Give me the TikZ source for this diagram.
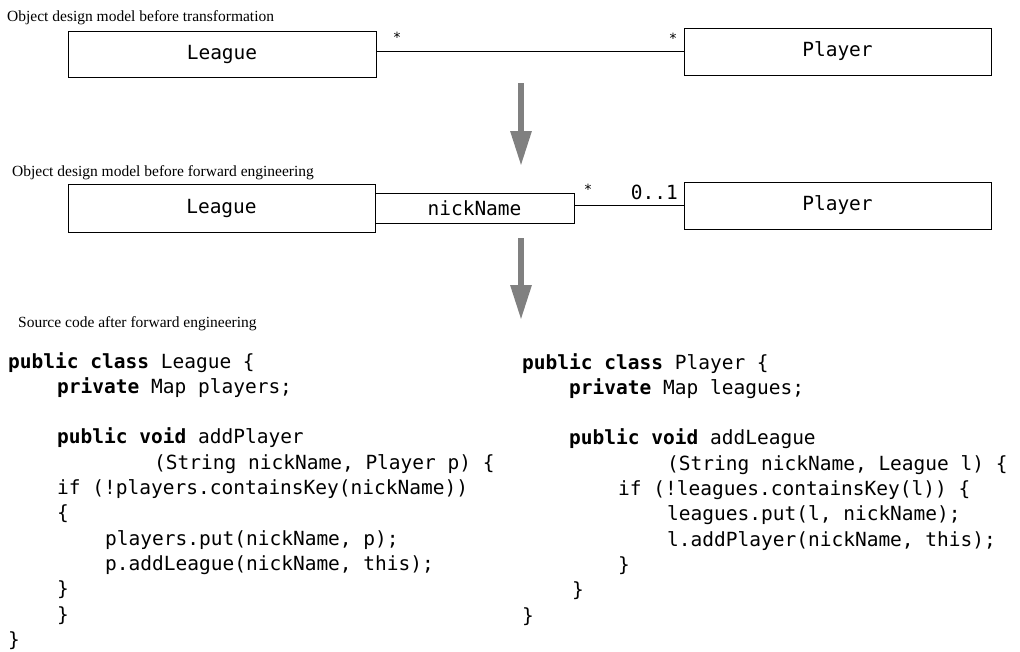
\documentclass[tikz,border=0pt]{standalone}
\usepackage{fontspec}
\setmainfont{Liberation Serif}
\newfontfamily\codefont{DejaVu Sans Mono}
\usetikzlibrary{arrows.meta}
\definecolor{arrowgray}{RGB}{128,128,128}
\tikzset{
  classbox/.style={draw=black, line width=1pt, inner sep=0pt, minimum width=#1,
    font=\codefont\fontsize{19.5}{24}\selectfont},
  titletext/.style={anchor=base west, inner sep=0pt, font=\fontsize{15.5}{18}\selectfont},
  codeline/.style={anchor=base west, inner sep=0pt, font=\codefont\fontsize{19.5}{24}\selectfont},
  multstar/.style={anchor=base, inner sep=0pt, font=\codefont\fontsize{14}{16}\selectfont},
  multnum/.style={anchor=base east, inner sep=0pt, font=\codefont\fontsize{19.5}{24}\selectfont},
  assoc/.style={draw=black, line width=1pt},
  bigarrow/.style={draw=arrowgray, line width=6pt, -{Triangle[width=20pt,length=35pt]}}
}
\begin{document}
\begin{tikzpicture}[x=1pt,y=-1pt]
\useasboundingbox (0,0) rectangle (1020,651);

% stage 1
\node[titletext] (t1) at (7,21) {Object design model before transformation};
\node[classbox=308pt, minimum height=46pt] (L1) at (222,54) {League};
\node[classbox=307pt, minimum height=47pt] (P1) at (837.5,51.5) {Player};
\draw[assoc] (L1.east |- P1.west) -- (P1.west);
\node[multstar] (s1) at (397,42) {*};
\node[multstar] (s2) at (673,43) {*};

% arrow 1
\coordinate (a1s) at (521,83);
\coordinate (a1e) at (521,166);
\draw[bigarrow] (a1s) -- (a1e);

% stage 2
\node[titletext] (t2) at (12,176) {Object design model before forward engineering};
\node[classbox=307pt, minimum height=48pt] (L2) at (221.5,208) {League};
\node[classbox=199pt, minimum height=30pt] (nk) at (474.5,208) {nickName};
\node[classbox=307pt, minimum height=47pt] (P2) at (837.5,205.5) {Player};
\draw[assoc] (nk.east |- P2.west) -- (P2.west);
\node[multstar] (s3) at (588,194) {*};
\node[multnum] (m1) at (678,199) {0..1};

% arrow 2
\coordinate (a2s) at (521,238);
\coordinate (a2e) at (521,320);
\draw[bigarrow] (a2s) -- (a2e);

% stage 3
\node[titletext] (t3) at (18,327) {Source code after forward engineering};

% left code
\node[codeline] (cl1)  at (8,368)     {\textbf{public class} League \{};
\node[codeline] (cl2)  at (57,393.3)  {\textbf{private} Map players;};
\node[codeline] (cl4)  at (57,443.9)  {\textbf{public void} addPlayer};
\node[codeline] (cl5)  at (154,469.2) {(String nickName, Player p) \{};
\node[codeline] (cl6)  at (57,494.5)  {if (!players.containsKey(nickName))};
\node[codeline] (cl7)  at (57,519.8)  {\{};
\node[codeline] (cl8)  at (105,545.1) {players.put(nickName, p);};
\node[codeline] (cl9)  at (105,570.4) {p.addLeague(nickName, this);};
\node[codeline] (cl10) at (57,595.7)  {\}};
\node[codeline] (cl11) at (57,621)    {\}};
\node[codeline] (cl12) at (8,646.3)   {\}};

% right code
\node[codeline] (cr1)  at (522,369)     {\textbf{public class} Player \{};
\node[codeline] (cr2)  at (569,394.3)   {\textbf{private} Map leagues;};
\node[codeline] (cr4)  at (569,444.9)   {\textbf{public void} addLeague};
\node[codeline] (cr5)  at (667,470.2)   {(String nickName, League l) \{};
\node[codeline] (cr6)  at (618,495.5)   {if (!leagues.containsKey(l)) \{};
\node[codeline] (cr7)  at (667,520.8)   {leagues.put(l, nickName);};
\node[codeline] (cr8)  at (667,546.1)   {l.addPlayer(nickName, this);};
\node[codeline] (cr9)  at (618,571.4)   {\}};
\node[codeline] (cr10) at (572,596.7)   {\}};
\node[codeline] (cr11) at (522,622)     {\}};
\end{tikzpicture}
\end{document}
